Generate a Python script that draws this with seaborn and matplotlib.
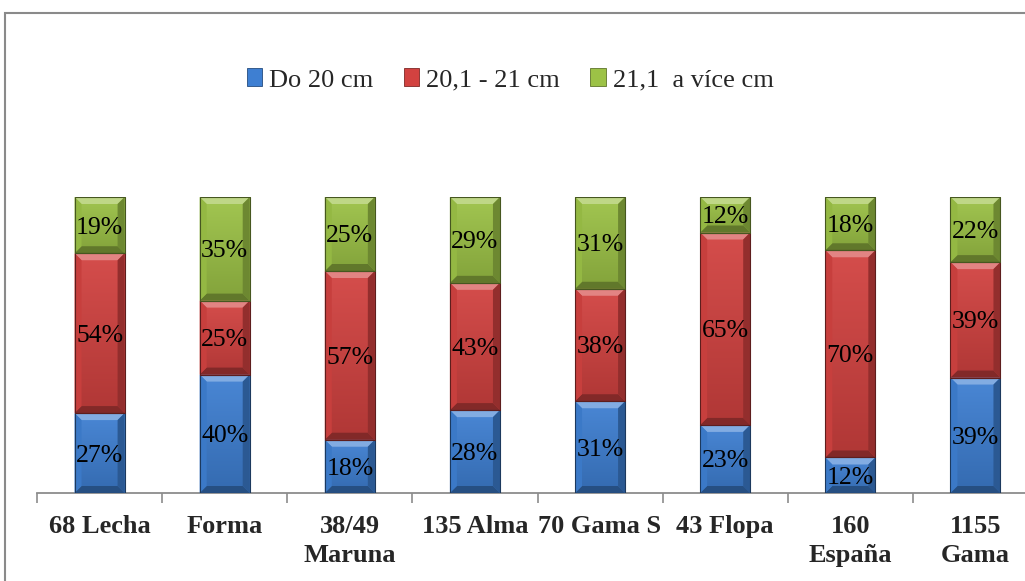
import numpy as np
import pandas as pd
import matplotlib
matplotlib.use("Agg")
import matplotlib.pyplot as plt
import seaborn as sns
from matplotlib.patches import Polygon, Rectangle
from matplotlib.colors import to_rgb

# --- data ---------------------------------------------------------------
categories = ["68 Lecha", "Forma", "38/49\nMaruna", "135 Alma", "70 Gama S",
              "43 Flopa", "160\nEspaña", "1155\nGama"]
series_names = ["Do 20 cm", "20,1 - 21 cm", "21,1  a více cm"]
do_20 = [27, 40, 18, 28, 31, 23, 12, 39]
mid_20_21 = [54, 25, 57, 43, 38, 65, 70, 39]
over_21 = [19, 35, 25, 29, 31, 12, 18, 22]

colors = ["#3e7fd2", "#d24240", "#9cc246"]

sns.set_theme(style="white")
plt.rcParams["font.family"] = ["Liberation Serif", "DejaVu Serif"]

fig = plt.figure(figsize=(10.25, 5.81), dpi=100)
ax = fig.add_axes([37 / 1025, 1 - 493 / 581, 1001 / 1025, 296 / 581])

values = [do_20, mid_20_21, over_21]
df = pd.DataFrame({"cat": categories})
bottoms = np.zeros(len(categories))
segments = []
for vals in values:
    vals = np.asarray(vals, dtype=float)
    segments.append((bottoms.copy(), vals))
    bottoms = bottoms + vals

# draw cumulative totals from the top layer down so each layer shows its own segment
cum = np.cumsum(np.array(values, dtype=float), axis=0)
for i in reversed(range(len(series_names))):
    df["v"] = cum[i]
    sns.barplot(data=df, x="cat", y="v", color=colors[i], width=0.4,
                saturation=1, ax=ax, edgecolor="none", linewidth=0)

ax.set_xlim(-0.5, len(categories) - 0.5)
ax.set_ylim(0, 100)

# bevelled look on every segment
bx = 0.4 * 7 / 50      # bevel width in data units (bar is 0.4 wide)
by = 100 * 7 / 296     # bevel height in data units


def shade(c, f):
    r = np.array(to_rgb(c))
    if f >= 0:
        return tuple(r + (1 - r) * f)
    return tuple(r * (1 + f))


for (bot, vals), col in zip(segments, colors):
    for xi, (b, h) in enumerate(zip(bot, vals)):
        x0, x1 = xi - 0.2, xi + 0.2
        y0, y1 = b, b + h
        byy = min(by, h / 2.5)
        # face gradient: lighter at top, darker at bottom
        grad = np.linspace(0, 1, 64).reshape(-1, 1)
        c_top = np.array(shade(col, 0.06))
        c_bot = np.array(shade(col, -0.16))
        img = c_bot[None, None, :] * (1 - grad[..., None]) + c_top[None, None, :] * grad[..., None]
        ax.imshow(img, extent=(x0, x1, y0, y1), origin="lower", aspect="auto",
                  zorder=3, interpolation="bilinear")
        ax.add_patch(Polygon([(x0, y1), (x1, y1), (x1 - bx, y1 - byy), (x0 + bx, y1 - byy)],
                             closed=True, facecolor=shade(col, 0.35), edgecolor="none", zorder=4))
        ax.add_patch(Polygon([(x0, y0), (x1, y0), (x1 - bx, y0 + byy), (x0 + bx, y0 + byy)],
                             closed=True, facecolor=shade(col, -0.38), edgecolor="none", zorder=4))
        ax.add_patch(Polygon([(x0, y0), (x0 + bx, y0 + byy), (x0 + bx, y1 - byy), (x0, y1)],
                             closed=True, facecolor=shade(col, -0.05), edgecolor="none", zorder=4))
        ax.add_patch(Polygon([(x1, y0), (x1 - bx, y0 + byy), (x1 - bx, y1 - byy), (x1, y1)],
                             closed=True, facecolor=shade(col, -0.3), edgecolor="none", zorder=4))
        ax.add_patch(Rectangle((x0, y0), x1 - x0, h, facecolor="none",
                               edgecolor=shade(col, -0.55), linewidth=0.8, zorder=5))
        ax.text(xi, b + h / 2, f"{int(h)}%", ha="center", va="center_baseline",
                fontsize=18.5, color="black", zorder=6)

ax.set_xlim(-0.5, len(categories) - 0.5)
ax.set_ylim(0, 100)

# axes styling
for s in ["left", "right", "top"]:
    ax.spines[s].set_visible(False)
ax.spines["bottom"].set_color("#8c8c8c")
ax.spines["bottom"].set_linewidth(1.3)
ax.set_yticks([])
ax.set_xlabel("")
ax.set_ylabel("")
ax.set_xticks(range(len(categories)))
ax.set_xticklabels(categories, fontsize=19, fontweight="bold", linespacing=1.32)
ax.tick_params(axis="x", which="major", length=0, pad=16)
ax.set_xticks(np.arange(-0.5, len(categories), 1.0), minor=True)
ax.tick_params(axis="x", which="minor", length=7, width=1.2, color="#8c8c8c", direction="out",
               bottom=True)

# legend
handles = [Rectangle((0, 0), 1, 1, facecolor=c, edgecolor=shade(c, -0.4), linewidth=0.6)
           for c in colors]
fig.legend(handles, series_names, loc="center", bbox_to_anchor=(510 / 1025, 1 - 80 / 581),
           ncol=3, frameon=False, fontsize=19, handlelength=0.6, handleheight=0.65,
           handletextpad=0.25, columnspacing=1.15, borderaxespad=0)

# outer chart frame
fig.patches.append(Rectangle((5 / 1025, -0.2), 1.2, 1.2 - 13 / 581,
                             transform=fig.transFigure, facecolor="none",
                             edgecolor="#8a8a8a", linewidth=1.5, zorder=0))

fig.savefig("out.png", dpi=100)
